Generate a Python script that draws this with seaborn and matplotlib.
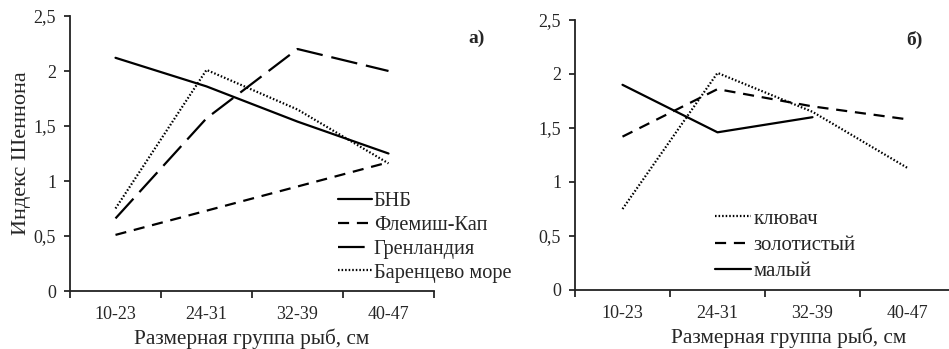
import numpy as np
import pandas as pd
import seaborn as sns
import matplotlib.pyplot as plt

# size groups (cm)
groups = ['10-23', '24-31', '32-39', '40-47']

# panel a) - regions
bnb = [2.12, 1.86, 1.54, 1.25]
flemish = [0.51, 0.73, 0.95, 1.17]
greenland = [0.66, 1.57, 2.20, 2.00]
barents = [0.75, 2.01, 1.65, 1.16]

# panel b) - species
klyuvach = [0.75, 2.01, 1.65, 1.13]
zolotisty = [1.42, 1.86, 1.70, 1.58]
maly = [1.90, 1.46, 1.60, np.nan]

sns.set_style('ticks')
plt.rcParams['font.family'] = ['Liberation Serif', 'DejaVu Serif']
plt.rcParams['axes.edgecolor'] = '#222222'
plt.rcParams['axes.linewidth'] = 1.3

fig = plt.figure(figsize=(9.49, 3.49), dpi=100)
ax1 = fig.add_axes([70 / 949, 58 / 349, 364 / 949, 275 / 349])
ax2 = fig.add_axes([575 / 949, 59 / 349, 380 / 949, 270 / 349])

styles = {
    'solid': (None, 1.6),
    'short': ((5, 3.5), 1.6),
    'long': ((12, 4), 1.6),
    'dot': ((0.7, 0.9), 1.6),
}

def draw(ax, name, vals, kind):
    df = pd.DataFrame({'group': groups, 'H': vals})
    dash, lw = styles[kind]
    line = sns.lineplot(data=df, x='group', y='H', ax=ax, color='black',
                        lw=lw, label=name, legend=False).lines[-1]
    if dash is not None:
        line.set_dashes(dash)
    return line

def setup(ax):
    ax.set_xlim(-0.5, 3.5)
    ax.set_ylim(0, 2.5)
    ax.set_xticks(np.arange(-0.5, 4, 1))
    ax.set_xticklabels([])
    ax.set_xticks(range(4), minor=True)
    ax.set_xticklabels(groups, minor=True, fontsize=13)
    ax.tick_params(axis='x', which='minor', length=0, pad=11)
    ax.tick_params(axis='x', which='major', length=5, width=1.3, direction='out')
    ax.set_yticks([0, 0.5, 1, 1.5, 2, 2.5])
    ax.set_yticklabels(['0', '0,5', '1', '1,5', '2', '2,5'], fontsize=13)
    ax.tick_params(axis='y', length=4, width=1.3, direction='out', pad=6)
    ax.set_xlabel('Размерная группа рыб, см', fontsize=15.3, labelpad=4)
    ax.set_ylabel('')
    sns.despine(ax=ax)

h1 = [draw(ax1, 'БНБ', bnb, 'solid'),
      draw(ax1, 'Флемиш-Кап', flemish, 'short'),
      draw(ax1, 'Гренландия', greenland, 'long'),
      draw(ax1, 'Баренцево море', barents, 'dot')]
setup(ax1)
ax1.set_ylabel('Индекс Шеннона', fontsize=16, labelpad=2)

h2 = [draw(ax2, 'клювач', klyuvach, 'dot'),
      draw(ax2, 'золотистый', zolotisty, 'short'),
      draw(ax2, 'малый', maly, 'solid')]
setup(ax2)
ax2.xaxis.label.set_x(0.563)

fig.legend(handles=h1, loc='upper left', bbox_to_anchor=(338 / 949, 1 - 192 / 349),
           frameon=False, fontsize=14.7, handlelength=1.65, handletextpad=0.1,
           labelspacing=0.22, borderpad=0, borderaxespad=0)
fig.legend(handles=h2, loc='upper left', bbox_to_anchor=(715 / 949, 1 - 209 / 349),
           frameon=False, fontsize=15, handlelength=1.75, handletextpad=0.1,
           labelspacing=0.32, borderpad=0, borderaxespad=0)

fig.text(468 / 949, 1 - 38 / 349, 'а)', fontsize=14, fontweight='bold',
         ha='left', va='center')
fig.text(906 / 949, 1 - 40 / 349, 'б)', fontsize=14, fontweight='bold',
         ha='left', va='center')

fig.savefig('out.png', dpi=100)
